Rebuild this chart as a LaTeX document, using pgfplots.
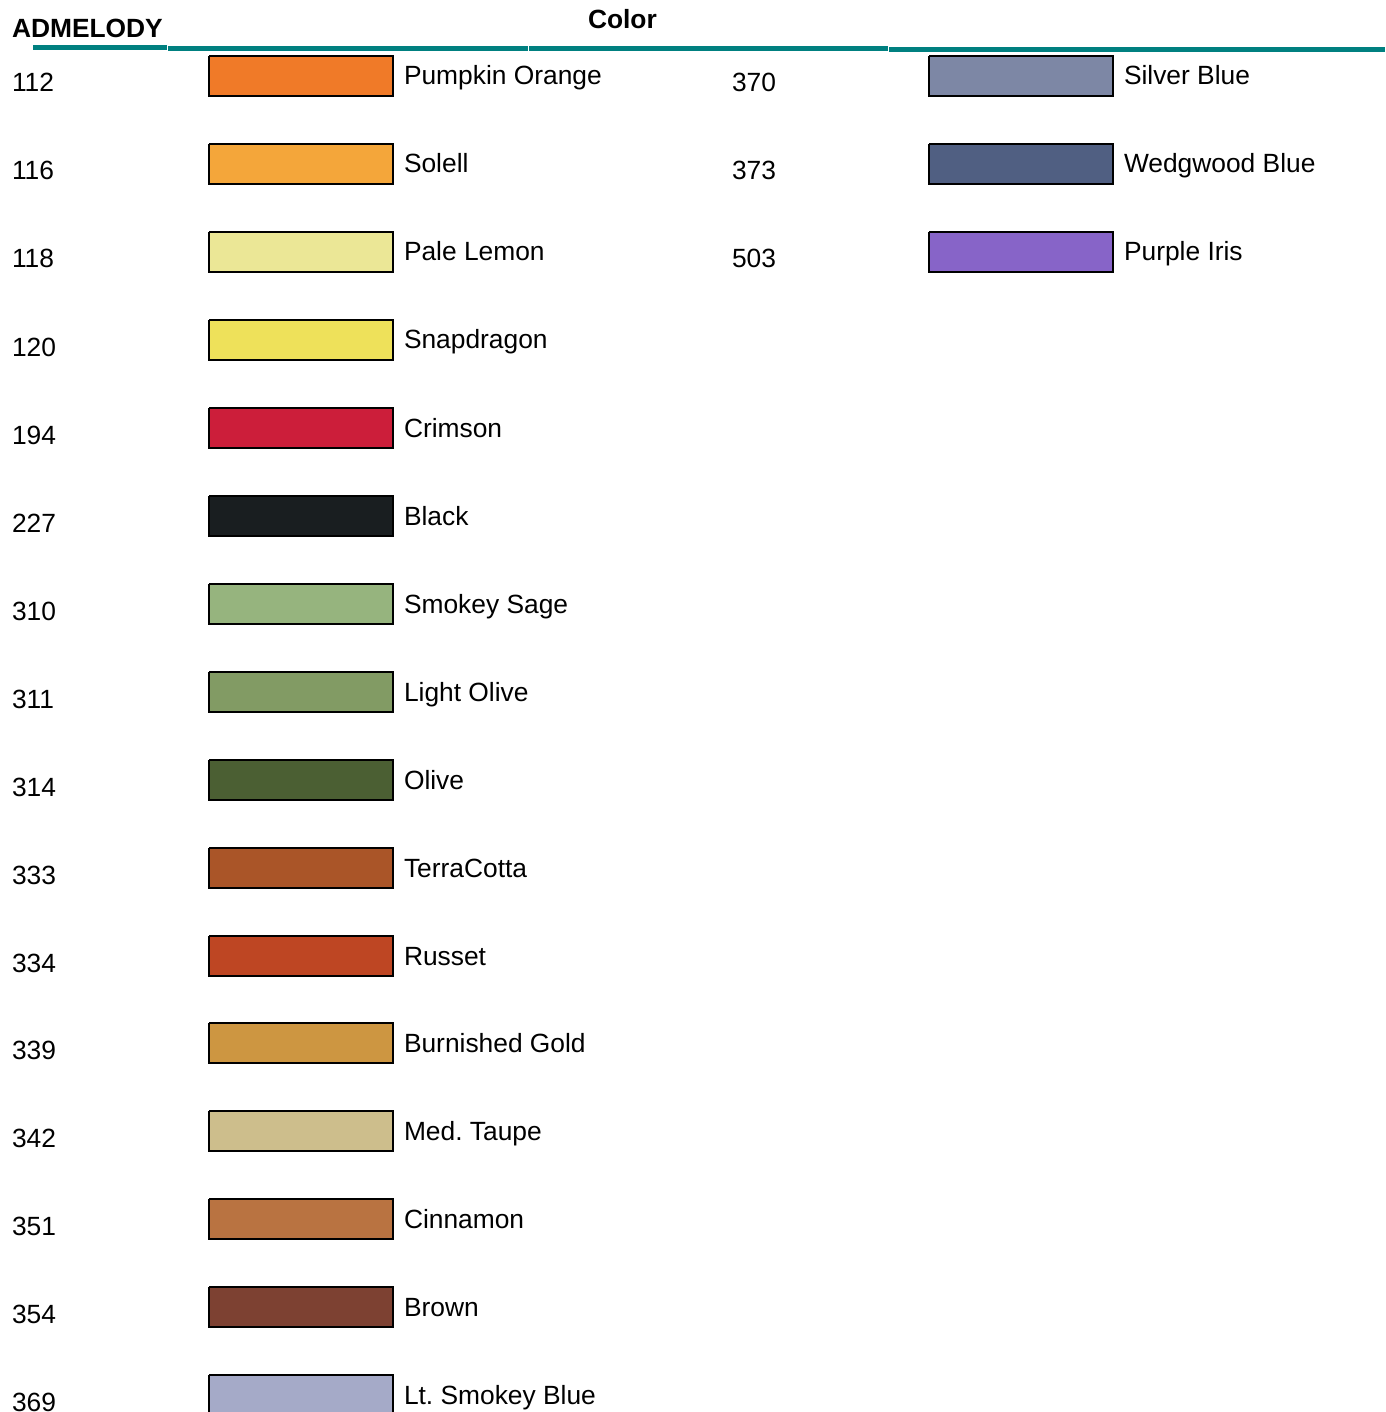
\documentclass[border=0pt]{standalone}
\usepackage{pgfplots}
\pgfplotsset{compat=1.18}
\usepackage{fontspec}
\setmainfont{Liberation Sans}
\frenchspacing

\definecolor{rule}{RGB}{0,128,128}
\definecolor{c112}{RGB}{240,122,40}
\definecolor{c116}{RGB}{244,166,58}
\definecolor{c118}{RGB}{235,231,150}
\definecolor{c120}{RGB}{238,225,90}
\definecolor{c194}{RGB}{204,30,58}
\definecolor{c227}{RGB}{25,30,32}
\definecolor{c310}{RGB}{150,180,126}
\definecolor{c311}{RGB}{130,155,100}
\definecolor{c314}{RGB}{75,95,51}
\definecolor{c333}{RGB}{170,85,40}
\definecolor{c334}{RGB}{190,70,35}
\definecolor{c339}{RGB}{205,150,65}
\definecolor{c342}{RGB}{205,190,140}
\definecolor{c351}{RGB}{185,115,65}
\definecolor{c354}{RGB}{125,65,50}
\definecolor{c369}{RGB}{165,170,200}
\definecolor{c370}{RGB}{125,135,165}
\definecolor{c373}{RGB}{80,95,130}
\definecolor{c503}{RGB}{135,100,200}

\tikzset{lbl/.style={anchor=base west, inner sep=0pt, outer sep=0pt,
  font=\fontsize{7.5}{9}\selectfont}}

\begin{document}
\begin{tikzpicture}
\begin{axis}[
  width=13.85cm, height=14.12cm, scale only axis,
  xmin=0, xmax=1385, ymin=0, ymax=1412, y dir=reverse,
  axis line style={draw=none}, ticks=none,
  sw/.style={draw=black, line width=0.5pt, line join=miter},
  ]
% header rule
\addplot[rule, line width=1.45pt] coordinates {(33,47.5) (167,47.5)};
\addplot[rule, line width=1.45pt] coordinates {(168,48.5) (528,48.5)};
\addplot[rule, line width=1.45pt] coordinates {(529,48.5) (888,48.5)};
\addplot[rule, line width=1.45pt] coordinates {(889,49.5) (1385,49.5)};
\node[lbl] at (axis cs:12,38) {\bfseries ADMELODY};
\node[lbl] at (axis cs:588,29) {\bfseries Color};

% left column swatches
\addplot[sw, fill=c112] coordinates {(209,56) (393,56) (393,96) (209,96) (209,56)};
\addplot[sw, fill=c116] coordinates {(209,144) (393,144) (393,184) (209,184) (209,144)};
\addplot[sw, fill=c118] coordinates {(209,232) (393,232) (393,272) (209,272) (209,232)};
\addplot[sw, fill=c120] coordinates {(209,320) (393,320) (393,360) (209,360) (209,320)};
\addplot[sw, fill=c194] coordinates {(209,408) (393,408) (393,448) (209,448) (209,408)};
\addplot[sw, fill=c227] coordinates {(209,496) (393,496) (393,536) (209,536) (209,496)};
\addplot[sw, fill=c310] coordinates {(209,584) (393,584) (393,624) (209,624) (209,584)};
\addplot[sw, fill=c311] coordinates {(209,672) (393,672) (393,712) (209,712) (209,672)};
\addplot[sw, fill=c314] coordinates {(209,760) (393,760) (393,800) (209,800) (209,760)};
\addplot[sw, fill=c333] coordinates {(209,848) (393,848) (393,888) (209,888) (209,848)};
\addplot[sw, fill=c334] coordinates {(209,936) (393,936) (393,976) (209,976) (209,936)};
\addplot[sw, fill=c339] coordinates {(209,1023) (393,1023) (393,1063) (209,1063) (209,1023)};
\addplot[sw, fill=c342] coordinates {(209,1111) (393,1111) (393,1151) (209,1151) (209,1111)};
\addplot[sw, fill=c351] coordinates {(209,1199) (393,1199) (393,1239) (209,1239) (209,1199)};
\addplot[sw, fill=c354] coordinates {(209,1287) (393,1287) (393,1327) (209,1327) (209,1287)};
\addplot[sw, fill=c369] coordinates {(209,1375) (393,1375) (393,1430) (209,1430) (209,1375)};

% right column swatches
\addplot[sw, fill=c370] coordinates {(929,56) (1113,56) (1113,96) (929,96) (929,56)};
\addplot[sw, fill=c373] coordinates {(929,144) (1113,144) (1113,184) (929,184) (929,144)};
\addplot[sw, fill=c503] coordinates {(929,232) (1113,232) (1113,272) (929,272) (929,232)};

% left column codes and names
\foreach \code/\name/\t in {112/Pumpkin Orange/56, 116/Solell/144, 118/Pale Lemon/232,
    120/Snapdragon/320, 194/Crimson/408, 227/Black/496, 310/Smokey Sage/584,
    311/Light Olive/672, 314/Olive/760, 333/TerraCotta/848, 334/Russet/936,
    339/Burnished Gold/1023, 342/Med. Taupe/1111, 351/Cinnamon/1199,
    354/Brown/1287, 369/Lt. Smokey Blue/1375}{
  \edef\temp{\noexpand\node[lbl] at (axis cs:12,\t+36) {\code};
    \noexpand\node[lbl] at (axis cs:404,\t+29) {\name};}
  \temp
}
% right column
\foreach \code/\name/\t in {370/Silver Blue/56, 373/Wedgwood Blue/144, 503/Purple Iris/232}{
  \edef\temp{\noexpand\node[lbl] at (axis cs:732,\t+36) {\code};
    \noexpand\node[lbl] at (axis cs:1124,\t+29) {\name};}
  \temp
}
\end{axis}
\end{tikzpicture}
\end{document}
